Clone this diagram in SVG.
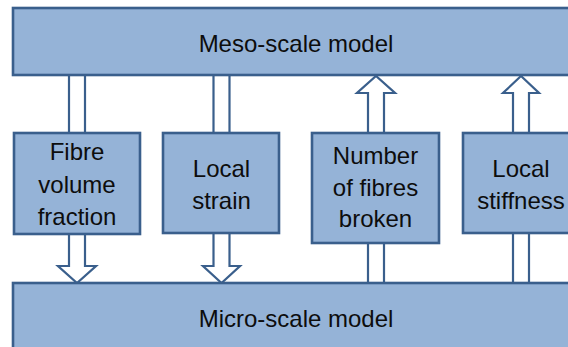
<svg xmlns="http://www.w3.org/2000/svg" width="568" height="347" viewBox="0 0 568 347">
  <style>
    .box { fill: #95B3D7; stroke: #3A5F8C; stroke-width: 2.6; }
    .arrow { fill: #FFFFFF; stroke: #3A5F8C; stroke-width: 2.2; stroke-linejoin: miter; }
    .label { font-family: "Liberation Sans", Arial, sans-serif; font-size: 24px; fill: #0D0D0D; text-anchor: middle; }
  </style>
  <rect width="568" height="347" fill="#FFFFFF"/>

  <!-- block arrows between the two model levels -->
  <g id="connectors">
    <!-- fibre volume fraction: meso -> micro -->
    <polygon class="arrow" points="69,75 69,266 58,266 77,283 96,266 85,266 85,75"/>
    <!-- local strain: meso -> micro -->
    <polygon class="arrow" points="213.5,75 213.5,266 203,266 221.5,283 240,266 229.5,266 229.5,75"/>
    <!-- number of fibres broken: micro -> meso -->
    <polygon class="arrow" points="368,283 368,93 357,93 376,76 395,93 384,93 384,283"/>
    <!-- local stiffness: micro -> meso -->
    <polygon class="arrow" points="513,283 513,93 503,93 521,76 539,93 529,93 529,283"/>
  </g>

  <g id="meso-model">
    <rect class="box" x="13" y="8" width="570" height="67"/>
    <text class="label" x="296" y="52">Meso-scale model</text>
  </g>

  <g id="micro-model">
    <rect class="box" x="13" y="283" width="570" height="80"/>
    <text class="label" x="296" y="327">Micro-scale model</text>
  </g>

  <g id="fibre-volume-fraction">
    <rect class="box" x="14" y="133" width="126" height="101"/>
    <text class="label" x="77" y="160">Fibre</text>
    <text class="label" x="77" y="192.5">volume</text>
    <text class="label" x="77" y="224.5">fraction</text>
  </g>

  <g id="local-strain">
    <rect class="box" x="163" y="133" width="116" height="100"/>
    <text class="label" x="221.5" y="177">Local</text>
    <text class="label" x="221.5" y="209">strain</text>
  </g>

  <g id="fibres-broken">
    <rect class="box" x="312" y="133" width="127" height="110"/>
    <text class="label" x="375.5" y="164">Number</text>
    <text class="label" x="375.5" y="196">of fibres</text>
    <text class="label" x="375.5" y="227">broken</text>
  </g>

  <g id="local-stiffness">
    <rect class="box" x="463" y="133" width="116" height="100"/>
    <text class="label" x="521" y="177">Local</text>
    <text class="label" x="521" y="209">stiffness</text>
  </g>
</svg>
